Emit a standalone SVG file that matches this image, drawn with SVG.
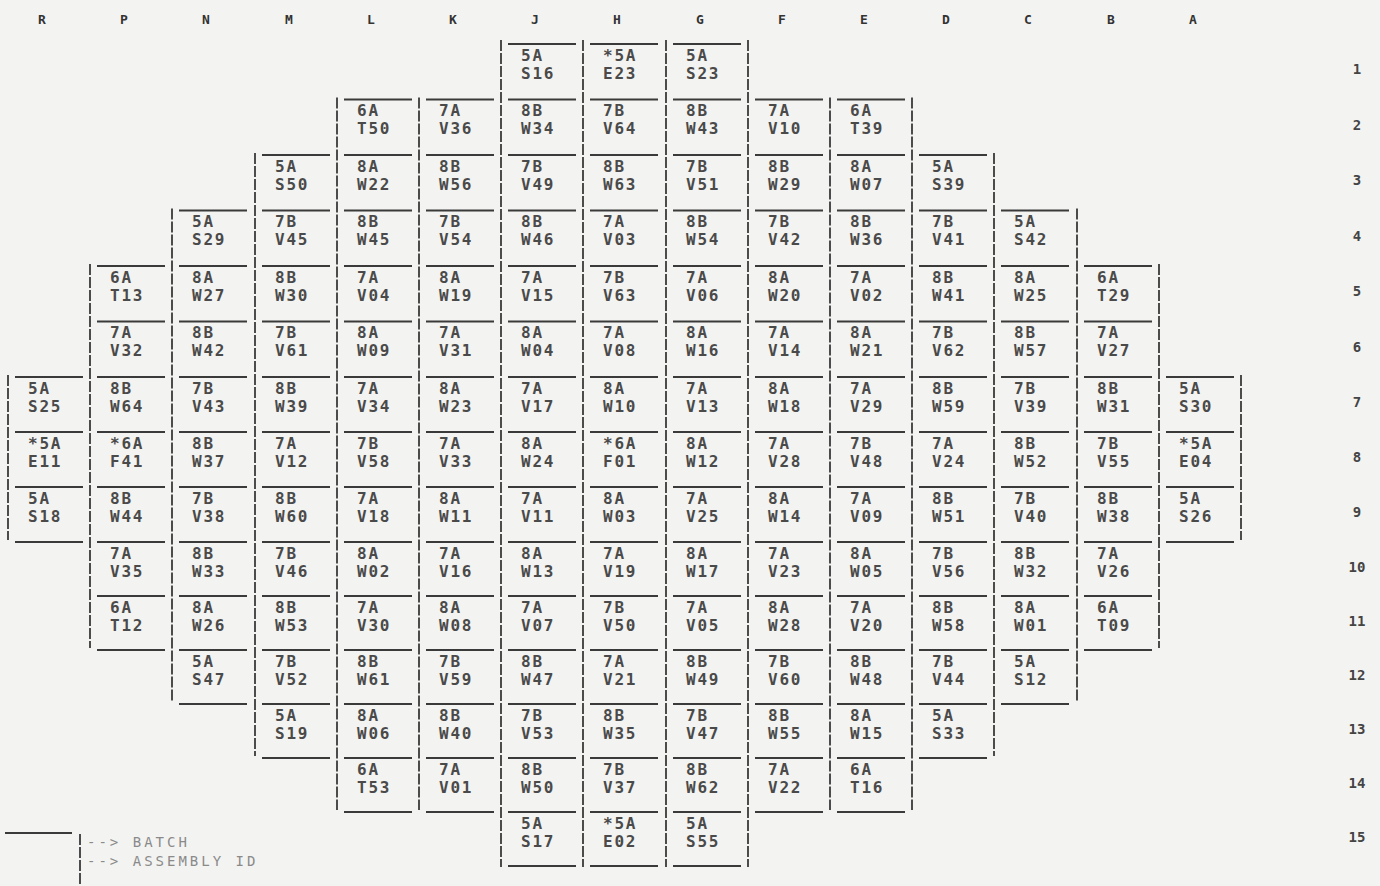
<svg xmlns="http://www.w3.org/2000/svg" width="1380" height="886" viewBox="0 0 1380 886">
<style>
.bg{fill:#f3f3f1}
.h{stroke:#3a3a3a;stroke-width:2;fill:none}
.v{stroke:#3a3a3a;stroke-width:1.8;stroke-dasharray:11 2;fill:none}
.t{font-family:"DejaVu Sans Mono","Liberation Mono",monospace;font-size:16px;font-weight:bold;letter-spacing:1.8px;fill:#4a4a4a}
.col{font-family:"DejaVu Sans Mono","Liberation Mono",monospace;font-size:13px;font-weight:bold;fill:#333;text-anchor:middle}
.row{font-family:"DejaVu Sans Mono","Liberation Mono",monospace;font-size:14px;font-weight:bold;fill:#444;text-anchor:middle}
.leg{font-family:"DejaVu Sans Mono","Liberation Mono",monospace;font-size:14px;letter-spacing:3px;fill:#8a8a8a}
</style>
<defs>
<line id="top" class="h" x1="7" y1="0" x2="75" y2="0"/>
</defs>
<rect class="bg" x="0" y="0" width="1380" height="886"/>
<g id="column-labels">
<text class="col" x="42" y="24">R</text><text class="col" x="124" y="24">P</text><text class="col" x="206" y="24">N</text><text class="col" x="289" y="24">M</text><text class="col" x="371" y="24">L</text><text class="col" x="453" y="24">K</text><text class="col" x="535" y="24">J</text><text class="col" x="617" y="24">H</text><text class="col" x="700" y="24">G</text><text class="col" x="782" y="24">F</text><text class="col" x="864" y="24">E</text><text class="col" x="946" y="24">D</text><text class="col" x="1028" y="24">C</text><text class="col" x="1111" y="24">B</text><text class="col" x="1193" y="24">A</text>
</g>
<g id="row-labels">
<text class="row" x="1357" y="74">1</text><text class="row" x="1357" y="129.5">2</text><text class="row" x="1357" y="185">3</text><text class="row" x="1357" y="240.5">4</text><text class="row" x="1357" y="296">5</text><text class="row" x="1357" y="351.5">6</text><text class="row" x="1357" y="407">7</text><text class="row" x="1357" y="462">8</text><text class="row" x="1357" y="517">9</text><text class="row" x="1357" y="572">10</text><text class="row" x="1357" y="626">11</text><text class="row" x="1357" y="680">12</text><text class="row" x="1357" y="734">13</text><text class="row" x="1357" y="788">14</text><text class="row" x="1357" y="842">15</text>
</g>
<g id="connectors">
<line class="v" x1="8" y1="375" x2="8" y2="540"/>
<line class="v" x1="90" y1="264" x2="90" y2="648"/>
<line class="v" x1="172" y1="208.5" x2="172" y2="702"/>
<line class="v" x1="255" y1="153" x2="255" y2="756"/>
<line class="v" x1="337" y1="97.5" x2="337" y2="810"/>
<line class="v" x1="419" y1="97.5" x2="419" y2="810"/>
<line class="v" x1="501" y1="40" x2="501" y2="867"/>
<line class="v" x1="583" y1="40" x2="583" y2="867"/>
<line class="v" x1="666" y1="40" x2="666" y2="867"/>
<line class="v" x1="748" y1="40" x2="748" y2="867"/>
<line class="v" x1="830" y1="97.5" x2="830" y2="810"/>
<line class="v" x1="912" y1="97.5" x2="912" y2="810"/>
<line class="v" x1="994" y1="153" x2="994" y2="756"/>
<line class="v" x1="1077" y1="208.5" x2="1077" y2="702"/>
<line class="v" x1="1159" y1="264" x2="1159" y2="648"/>
<line class="v" x1="1241" y1="375" x2="1241" y2="540"/>
<use href="#top" x="8" y="542"/><use href="#top" x="1159" y="542"/>
<use href="#top" x="90" y="650"/><use href="#top" x="1077" y="650"/>
<use href="#top" x="172" y="704"/><use href="#top" x="994" y="704"/>
<use href="#top" x="255" y="758"/><use href="#top" x="912" y="758"/>
<use href="#top" x="337" y="812"/><use href="#top" x="419" y="812"/><use href="#top" x="748" y="812"/><use href="#top" x="830" y="812"/>
<use href="#top" x="501" y="866"/><use href="#top" x="583" y="866"/><use href="#top" x="666" y="866"/>
</g>
<g id="J1" transform="translate(501,44)"><use href="#top"/><text class="t" x="20" y="16.5">5A</text><text class="t" x="20" y="34.5">S16</text></g>
<g id="H1" transform="translate(583,44)"><use href="#top"/><text class="t" x="20" y="16.5">*5A</text><text class="t" x="20" y="34.5">E23</text></g>
<g id="G1" transform="translate(666,44)"><use href="#top"/><text class="t" x="20" y="16.5">5A</text><text class="t" x="20" y="34.5">S23</text></g>
<g id="L2" transform="translate(337,99.5)"><use href="#top"/><text class="t" x="20" y="16.5">6A</text><text class="t" x="20" y="34.5">T50</text></g>
<g id="K2" transform="translate(419,99.5)"><use href="#top"/><text class="t" x="20" y="16.5">7A</text><text class="t" x="20" y="34.5">V36</text></g>
<g id="J2" transform="translate(501,99.5)"><use href="#top"/><text class="t" x="20" y="16.5">8B</text><text class="t" x="20" y="34.5">W34</text></g>
<g id="H2" transform="translate(583,99.5)"><use href="#top"/><text class="t" x="20" y="16.5">7B</text><text class="t" x="20" y="34.5">V64</text></g>
<g id="G2" transform="translate(666,99.5)"><use href="#top"/><text class="t" x="20" y="16.5">8B</text><text class="t" x="20" y="34.5">W43</text></g>
<g id="F2" transform="translate(748,99.5)"><use href="#top"/><text class="t" x="20" y="16.5">7A</text><text class="t" x="20" y="34.5">V10</text></g>
<g id="E2" transform="translate(830,99.5)"><use href="#top"/><text class="t" x="20" y="16.5">6A</text><text class="t" x="20" y="34.5">T39</text></g>
<g id="M3" transform="translate(255,155)"><use href="#top"/><text class="t" x="20" y="16.5">5A</text><text class="t" x="20" y="34.5">S50</text></g>
<g id="L3" transform="translate(337,155)"><use href="#top"/><text class="t" x="20" y="16.5">8A</text><text class="t" x="20" y="34.5">W22</text></g>
<g id="K3" transform="translate(419,155)"><use href="#top"/><text class="t" x="20" y="16.5">8B</text><text class="t" x="20" y="34.5">W56</text></g>
<g id="J3" transform="translate(501,155)"><use href="#top"/><text class="t" x="20" y="16.5">7B</text><text class="t" x="20" y="34.5">V49</text></g>
<g id="H3" transform="translate(583,155)"><use href="#top"/><text class="t" x="20" y="16.5">8B</text><text class="t" x="20" y="34.5">W63</text></g>
<g id="G3" transform="translate(666,155)"><use href="#top"/><text class="t" x="20" y="16.5">7B</text><text class="t" x="20" y="34.5">V51</text></g>
<g id="F3" transform="translate(748,155)"><use href="#top"/><text class="t" x="20" y="16.5">8B</text><text class="t" x="20" y="34.5">W29</text></g>
<g id="E3" transform="translate(830,155)"><use href="#top"/><text class="t" x="20" y="16.5">8A</text><text class="t" x="20" y="34.5">W07</text></g>
<g id="D3" transform="translate(912,155)"><use href="#top"/><text class="t" x="20" y="16.5">5A</text><text class="t" x="20" y="34.5">S39</text></g>
<g id="N4" transform="translate(172,210.5)"><use href="#top"/><text class="t" x="20" y="16.5">5A</text><text class="t" x="20" y="34.5">S29</text></g>
<g id="M4" transform="translate(255,210.5)"><use href="#top"/><text class="t" x="20" y="16.5">7B</text><text class="t" x="20" y="34.5">V45</text></g>
<g id="L4" transform="translate(337,210.5)"><use href="#top"/><text class="t" x="20" y="16.5">8B</text><text class="t" x="20" y="34.5">W45</text></g>
<g id="K4" transform="translate(419,210.5)"><use href="#top"/><text class="t" x="20" y="16.5">7B</text><text class="t" x="20" y="34.5">V54</text></g>
<g id="J4" transform="translate(501,210.5)"><use href="#top"/><text class="t" x="20" y="16.5">8B</text><text class="t" x="20" y="34.5">W46</text></g>
<g id="H4" transform="translate(583,210.5)"><use href="#top"/><text class="t" x="20" y="16.5">7A</text><text class="t" x="20" y="34.5">V03</text></g>
<g id="G4" transform="translate(666,210.5)"><use href="#top"/><text class="t" x="20" y="16.5">8B</text><text class="t" x="20" y="34.5">W54</text></g>
<g id="F4" transform="translate(748,210.5)"><use href="#top"/><text class="t" x="20" y="16.5">7B</text><text class="t" x="20" y="34.5">V42</text></g>
<g id="E4" transform="translate(830,210.5)"><use href="#top"/><text class="t" x="20" y="16.5">8B</text><text class="t" x="20" y="34.5">W36</text></g>
<g id="D4" transform="translate(912,210.5)"><use href="#top"/><text class="t" x="20" y="16.5">7B</text><text class="t" x="20" y="34.5">V41</text></g>
<g id="C4" transform="translate(994,210.5)"><use href="#top"/><text class="t" x="20" y="16.5">5A</text><text class="t" x="20" y="34.5">S42</text></g>
<g id="P5" transform="translate(90,266)"><use href="#top"/><text class="t" x="20" y="16.5">6A</text><text class="t" x="20" y="34.5">T13</text></g>
<g id="N5" transform="translate(172,266)"><use href="#top"/><text class="t" x="20" y="16.5">8A</text><text class="t" x="20" y="34.5">W27</text></g>
<g id="M5" transform="translate(255,266)"><use href="#top"/><text class="t" x="20" y="16.5">8B</text><text class="t" x="20" y="34.5">W30</text></g>
<g id="L5" transform="translate(337,266)"><use href="#top"/><text class="t" x="20" y="16.5">7A</text><text class="t" x="20" y="34.5">V04</text></g>
<g id="K5" transform="translate(419,266)"><use href="#top"/><text class="t" x="20" y="16.5">8A</text><text class="t" x="20" y="34.5">W19</text></g>
<g id="J5" transform="translate(501,266)"><use href="#top"/><text class="t" x="20" y="16.5">7A</text><text class="t" x="20" y="34.5">V15</text></g>
<g id="H5" transform="translate(583,266)"><use href="#top"/><text class="t" x="20" y="16.5">7B</text><text class="t" x="20" y="34.5">V63</text></g>
<g id="G5" transform="translate(666,266)"><use href="#top"/><text class="t" x="20" y="16.5">7A</text><text class="t" x="20" y="34.5">V06</text></g>
<g id="F5" transform="translate(748,266)"><use href="#top"/><text class="t" x="20" y="16.5">8A</text><text class="t" x="20" y="34.5">W20</text></g>
<g id="E5" transform="translate(830,266)"><use href="#top"/><text class="t" x="20" y="16.5">7A</text><text class="t" x="20" y="34.5">V02</text></g>
<g id="D5" transform="translate(912,266)"><use href="#top"/><text class="t" x="20" y="16.5">8B</text><text class="t" x="20" y="34.5">W41</text></g>
<g id="C5" transform="translate(994,266)"><use href="#top"/><text class="t" x="20" y="16.5">8A</text><text class="t" x="20" y="34.5">W25</text></g>
<g id="B5" transform="translate(1077,266)"><use href="#top"/><text class="t" x="20" y="16.5">6A</text><text class="t" x="20" y="34.5">T29</text></g>
<g id="P6" transform="translate(90,321.5)"><use href="#top"/><text class="t" x="20" y="16.5">7A</text><text class="t" x="20" y="34.5">V32</text></g>
<g id="N6" transform="translate(172,321.5)"><use href="#top"/><text class="t" x="20" y="16.5">8B</text><text class="t" x="20" y="34.5">W42</text></g>
<g id="M6" transform="translate(255,321.5)"><use href="#top"/><text class="t" x="20" y="16.5">7B</text><text class="t" x="20" y="34.5">V61</text></g>
<g id="L6" transform="translate(337,321.5)"><use href="#top"/><text class="t" x="20" y="16.5">8A</text><text class="t" x="20" y="34.5">W09</text></g>
<g id="K6" transform="translate(419,321.5)"><use href="#top"/><text class="t" x="20" y="16.5">7A</text><text class="t" x="20" y="34.5">V31</text></g>
<g id="J6" transform="translate(501,321.5)"><use href="#top"/><text class="t" x="20" y="16.5">8A</text><text class="t" x="20" y="34.5">W04</text></g>
<g id="H6" transform="translate(583,321.5)"><use href="#top"/><text class="t" x="20" y="16.5">7A</text><text class="t" x="20" y="34.5">V08</text></g>
<g id="G6" transform="translate(666,321.5)"><use href="#top"/><text class="t" x="20" y="16.5">8A</text><text class="t" x="20" y="34.5">W16</text></g>
<g id="F6" transform="translate(748,321.5)"><use href="#top"/><text class="t" x="20" y="16.5">7A</text><text class="t" x="20" y="34.5">V14</text></g>
<g id="E6" transform="translate(830,321.5)"><use href="#top"/><text class="t" x="20" y="16.5">8A</text><text class="t" x="20" y="34.5">W21</text></g>
<g id="D6" transform="translate(912,321.5)"><use href="#top"/><text class="t" x="20" y="16.5">7B</text><text class="t" x="20" y="34.5">V62</text></g>
<g id="C6" transform="translate(994,321.5)"><use href="#top"/><text class="t" x="20" y="16.5">8B</text><text class="t" x="20" y="34.5">W57</text></g>
<g id="B6" transform="translate(1077,321.5)"><use href="#top"/><text class="t" x="20" y="16.5">7A</text><text class="t" x="20" y="34.5">V27</text></g>
<g id="R7" transform="translate(8,377)"><use href="#top"/><text class="t" x="20" y="16.5">5A</text><text class="t" x="20" y="34.5">S25</text></g>
<g id="P7" transform="translate(90,377)"><use href="#top"/><text class="t" x="20" y="16.5">8B</text><text class="t" x="20" y="34.5">W64</text></g>
<g id="N7" transform="translate(172,377)"><use href="#top"/><text class="t" x="20" y="16.5">7B</text><text class="t" x="20" y="34.5">V43</text></g>
<g id="M7" transform="translate(255,377)"><use href="#top"/><text class="t" x="20" y="16.5">8B</text><text class="t" x="20" y="34.5">W39</text></g>
<g id="L7" transform="translate(337,377)"><use href="#top"/><text class="t" x="20" y="16.5">7A</text><text class="t" x="20" y="34.5">V34</text></g>
<g id="K7" transform="translate(419,377)"><use href="#top"/><text class="t" x="20" y="16.5">8A</text><text class="t" x="20" y="34.5">W23</text></g>
<g id="J7" transform="translate(501,377)"><use href="#top"/><text class="t" x="20" y="16.5">7A</text><text class="t" x="20" y="34.5">V17</text></g>
<g id="H7" transform="translate(583,377)"><use href="#top"/><text class="t" x="20" y="16.5">8A</text><text class="t" x="20" y="34.5">W10</text></g>
<g id="G7" transform="translate(666,377)"><use href="#top"/><text class="t" x="20" y="16.5">7A</text><text class="t" x="20" y="34.5">V13</text></g>
<g id="F7" transform="translate(748,377)"><use href="#top"/><text class="t" x="20" y="16.5">8A</text><text class="t" x="20" y="34.5">W18</text></g>
<g id="E7" transform="translate(830,377)"><use href="#top"/><text class="t" x="20" y="16.5">7A</text><text class="t" x="20" y="34.5">V29</text></g>
<g id="D7" transform="translate(912,377)"><use href="#top"/><text class="t" x="20" y="16.5">8B</text><text class="t" x="20" y="34.5">W59</text></g>
<g id="C7" transform="translate(994,377)"><use href="#top"/><text class="t" x="20" y="16.5">7B</text><text class="t" x="20" y="34.5">V39</text></g>
<g id="B7" transform="translate(1077,377)"><use href="#top"/><text class="t" x="20" y="16.5">8B</text><text class="t" x="20" y="34.5">W31</text></g>
<g id="A7" transform="translate(1159,377)"><use href="#top"/><text class="t" x="20" y="16.5">5A</text><text class="t" x="20" y="34.5">S30</text></g>
<g id="R8" transform="translate(8,432)"><use href="#top"/><text class="t" x="20" y="16.5">*5A</text><text class="t" x="20" y="34.5">E11</text></g>
<g id="P8" transform="translate(90,432)"><use href="#top"/><text class="t" x="20" y="16.5">*6A</text><text class="t" x="20" y="34.5">F41</text></g>
<g id="N8" transform="translate(172,432)"><use href="#top"/><text class="t" x="20" y="16.5">8B</text><text class="t" x="20" y="34.5">W37</text></g>
<g id="M8" transform="translate(255,432)"><use href="#top"/><text class="t" x="20" y="16.5">7A</text><text class="t" x="20" y="34.5">V12</text></g>
<g id="L8" transform="translate(337,432)"><use href="#top"/><text class="t" x="20" y="16.5">7B</text><text class="t" x="20" y="34.5">V58</text></g>
<g id="K8" transform="translate(419,432)"><use href="#top"/><text class="t" x="20" y="16.5">7A</text><text class="t" x="20" y="34.5">V33</text></g>
<g id="J8" transform="translate(501,432)"><use href="#top"/><text class="t" x="20" y="16.5">8A</text><text class="t" x="20" y="34.5">W24</text></g>
<g id="H8" transform="translate(583,432)"><use href="#top"/><text class="t" x="20" y="16.5">*6A</text><text class="t" x="20" y="34.5">F01</text></g>
<g id="G8" transform="translate(666,432)"><use href="#top"/><text class="t" x="20" y="16.5">8A</text><text class="t" x="20" y="34.5">W12</text></g>
<g id="F8" transform="translate(748,432)"><use href="#top"/><text class="t" x="20" y="16.5">7A</text><text class="t" x="20" y="34.5">V28</text></g>
<g id="E8" transform="translate(830,432)"><use href="#top"/><text class="t" x="20" y="16.5">7B</text><text class="t" x="20" y="34.5">V48</text></g>
<g id="D8" transform="translate(912,432)"><use href="#top"/><text class="t" x="20" y="16.5">7A</text><text class="t" x="20" y="34.5">V24</text></g>
<g id="C8" transform="translate(994,432)"><use href="#top"/><text class="t" x="20" y="16.5">8B</text><text class="t" x="20" y="34.5">W52</text></g>
<g id="B8" transform="translate(1077,432)"><use href="#top"/><text class="t" x="20" y="16.5">7B</text><text class="t" x="20" y="34.5">V55</text></g>
<g id="A8" transform="translate(1159,432)"><use href="#top"/><text class="t" x="20" y="16.5">*5A</text><text class="t" x="20" y="34.5">E04</text></g>
<g id="R9" transform="translate(8,487)"><use href="#top"/><text class="t" x="20" y="16.5">5A</text><text class="t" x="20" y="34.5">S18</text></g>
<g id="P9" transform="translate(90,487)"><use href="#top"/><text class="t" x="20" y="16.5">8B</text><text class="t" x="20" y="34.5">W44</text></g>
<g id="N9" transform="translate(172,487)"><use href="#top"/><text class="t" x="20" y="16.5">7B</text><text class="t" x="20" y="34.5">V38</text></g>
<g id="M9" transform="translate(255,487)"><use href="#top"/><text class="t" x="20" y="16.5">8B</text><text class="t" x="20" y="34.5">W60</text></g>
<g id="L9" transform="translate(337,487)"><use href="#top"/><text class="t" x="20" y="16.5">7A</text><text class="t" x="20" y="34.5">V18</text></g>
<g id="K9" transform="translate(419,487)"><use href="#top"/><text class="t" x="20" y="16.5">8A</text><text class="t" x="20" y="34.5">W11</text></g>
<g id="J9" transform="translate(501,487)"><use href="#top"/><text class="t" x="20" y="16.5">7A</text><text class="t" x="20" y="34.5">V11</text></g>
<g id="H9" transform="translate(583,487)"><use href="#top"/><text class="t" x="20" y="16.5">8A</text><text class="t" x="20" y="34.5">W03</text></g>
<g id="G9" transform="translate(666,487)"><use href="#top"/><text class="t" x="20" y="16.5">7A</text><text class="t" x="20" y="34.5">V25</text></g>
<g id="F9" transform="translate(748,487)"><use href="#top"/><text class="t" x="20" y="16.5">8A</text><text class="t" x="20" y="34.5">W14</text></g>
<g id="E9" transform="translate(830,487)"><use href="#top"/><text class="t" x="20" y="16.5">7A</text><text class="t" x="20" y="34.5">V09</text></g>
<g id="D9" transform="translate(912,487)"><use href="#top"/><text class="t" x="20" y="16.5">8B</text><text class="t" x="20" y="34.5">W51</text></g>
<g id="C9" transform="translate(994,487)"><use href="#top"/><text class="t" x="20" y="16.5">7B</text><text class="t" x="20" y="34.5">V40</text></g>
<g id="B9" transform="translate(1077,487)"><use href="#top"/><text class="t" x="20" y="16.5">8B</text><text class="t" x="20" y="34.5">W38</text></g>
<g id="A9" transform="translate(1159,487)"><use href="#top"/><text class="t" x="20" y="16.5">5A</text><text class="t" x="20" y="34.5">S26</text></g>
<g id="P10" transform="translate(90,542)"><use href="#top"/><text class="t" x="20" y="16.5">7A</text><text class="t" x="20" y="34.5">V35</text></g>
<g id="N10" transform="translate(172,542)"><use href="#top"/><text class="t" x="20" y="16.5">8B</text><text class="t" x="20" y="34.5">W33</text></g>
<g id="M10" transform="translate(255,542)"><use href="#top"/><text class="t" x="20" y="16.5">7B</text><text class="t" x="20" y="34.5">V46</text></g>
<g id="L10" transform="translate(337,542)"><use href="#top"/><text class="t" x="20" y="16.5">8A</text><text class="t" x="20" y="34.5">W02</text></g>
<g id="K10" transform="translate(419,542)"><use href="#top"/><text class="t" x="20" y="16.5">7A</text><text class="t" x="20" y="34.5">V16</text></g>
<g id="J10" transform="translate(501,542)"><use href="#top"/><text class="t" x="20" y="16.5">8A</text><text class="t" x="20" y="34.5">W13</text></g>
<g id="H10" transform="translate(583,542)"><use href="#top"/><text class="t" x="20" y="16.5">7A</text><text class="t" x="20" y="34.5">V19</text></g>
<g id="G10" transform="translate(666,542)"><use href="#top"/><text class="t" x="20" y="16.5">8A</text><text class="t" x="20" y="34.5">W17</text></g>
<g id="F10" transform="translate(748,542)"><use href="#top"/><text class="t" x="20" y="16.5">7A</text><text class="t" x="20" y="34.5">V23</text></g>
<g id="E10" transform="translate(830,542)"><use href="#top"/><text class="t" x="20" y="16.5">8A</text><text class="t" x="20" y="34.5">W05</text></g>
<g id="D10" transform="translate(912,542)"><use href="#top"/><text class="t" x="20" y="16.5">7B</text><text class="t" x="20" y="34.5">V56</text></g>
<g id="C10" transform="translate(994,542)"><use href="#top"/><text class="t" x="20" y="16.5">8B</text><text class="t" x="20" y="34.5">W32</text></g>
<g id="B10" transform="translate(1077,542)"><use href="#top"/><text class="t" x="20" y="16.5">7A</text><text class="t" x="20" y="34.5">V26</text></g>
<g id="P11" transform="translate(90,596)"><use href="#top"/><text class="t" x="20" y="16.5">6A</text><text class="t" x="20" y="34.5">T12</text></g>
<g id="N11" transform="translate(172,596)"><use href="#top"/><text class="t" x="20" y="16.5">8A</text><text class="t" x="20" y="34.5">W26</text></g>
<g id="M11" transform="translate(255,596)"><use href="#top"/><text class="t" x="20" y="16.5">8B</text><text class="t" x="20" y="34.5">W53</text></g>
<g id="L11" transform="translate(337,596)"><use href="#top"/><text class="t" x="20" y="16.5">7A</text><text class="t" x="20" y="34.5">V30</text></g>
<g id="K11" transform="translate(419,596)"><use href="#top"/><text class="t" x="20" y="16.5">8A</text><text class="t" x="20" y="34.5">W08</text></g>
<g id="J11" transform="translate(501,596)"><use href="#top"/><text class="t" x="20" y="16.5">7A</text><text class="t" x="20" y="34.5">V07</text></g>
<g id="H11" transform="translate(583,596)"><use href="#top"/><text class="t" x="20" y="16.5">7B</text><text class="t" x="20" y="34.5">V50</text></g>
<g id="G11" transform="translate(666,596)"><use href="#top"/><text class="t" x="20" y="16.5">7A</text><text class="t" x="20" y="34.5">V05</text></g>
<g id="F11" transform="translate(748,596)"><use href="#top"/><text class="t" x="20" y="16.5">8A</text><text class="t" x="20" y="34.5">W28</text></g>
<g id="E11" transform="translate(830,596)"><use href="#top"/><text class="t" x="20" y="16.5">7A</text><text class="t" x="20" y="34.5">V20</text></g>
<g id="D11" transform="translate(912,596)"><use href="#top"/><text class="t" x="20" y="16.5">8B</text><text class="t" x="20" y="34.5">W58</text></g>
<g id="C11" transform="translate(994,596)"><use href="#top"/><text class="t" x="20" y="16.5">8A</text><text class="t" x="20" y="34.5">W01</text></g>
<g id="B11" transform="translate(1077,596)"><use href="#top"/><text class="t" x="20" y="16.5">6A</text><text class="t" x="20" y="34.5">T09</text></g>
<g id="N12" transform="translate(172,650)"><use href="#top"/><text class="t" x="20" y="16.5">5A</text><text class="t" x="20" y="34.5">S47</text></g>
<g id="M12" transform="translate(255,650)"><use href="#top"/><text class="t" x="20" y="16.5">7B</text><text class="t" x="20" y="34.5">V52</text></g>
<g id="L12" transform="translate(337,650)"><use href="#top"/><text class="t" x="20" y="16.5">8B</text><text class="t" x="20" y="34.5">W61</text></g>
<g id="K12" transform="translate(419,650)"><use href="#top"/><text class="t" x="20" y="16.5">7B</text><text class="t" x="20" y="34.5">V59</text></g>
<g id="J12" transform="translate(501,650)"><use href="#top"/><text class="t" x="20" y="16.5">8B</text><text class="t" x="20" y="34.5">W47</text></g>
<g id="H12" transform="translate(583,650)"><use href="#top"/><text class="t" x="20" y="16.5">7A</text><text class="t" x="20" y="34.5">V21</text></g>
<g id="G12" transform="translate(666,650)"><use href="#top"/><text class="t" x="20" y="16.5">8B</text><text class="t" x="20" y="34.5">W49</text></g>
<g id="F12" transform="translate(748,650)"><use href="#top"/><text class="t" x="20" y="16.5">7B</text><text class="t" x="20" y="34.5">V60</text></g>
<g id="E12" transform="translate(830,650)"><use href="#top"/><text class="t" x="20" y="16.5">8B</text><text class="t" x="20" y="34.5">W48</text></g>
<g id="D12" transform="translate(912,650)"><use href="#top"/><text class="t" x="20" y="16.5">7B</text><text class="t" x="20" y="34.5">V44</text></g>
<g id="C12" transform="translate(994,650)"><use href="#top"/><text class="t" x="20" y="16.5">5A</text><text class="t" x="20" y="34.5">S12</text></g>
<g id="M13" transform="translate(255,704)"><use href="#top"/><text class="t" x="20" y="16.5">5A</text><text class="t" x="20" y="34.5">S19</text></g>
<g id="L13" transform="translate(337,704)"><use href="#top"/><text class="t" x="20" y="16.5">8A</text><text class="t" x="20" y="34.5">W06</text></g>
<g id="K13" transform="translate(419,704)"><use href="#top"/><text class="t" x="20" y="16.5">8B</text><text class="t" x="20" y="34.5">W40</text></g>
<g id="J13" transform="translate(501,704)"><use href="#top"/><text class="t" x="20" y="16.5">7B</text><text class="t" x="20" y="34.5">V53</text></g>
<g id="H13" transform="translate(583,704)"><use href="#top"/><text class="t" x="20" y="16.5">8B</text><text class="t" x="20" y="34.5">W35</text></g>
<g id="G13" transform="translate(666,704)"><use href="#top"/><text class="t" x="20" y="16.5">7B</text><text class="t" x="20" y="34.5">V47</text></g>
<g id="F13" transform="translate(748,704)"><use href="#top"/><text class="t" x="20" y="16.5">8B</text><text class="t" x="20" y="34.5">W55</text></g>
<g id="E13" transform="translate(830,704)"><use href="#top"/><text class="t" x="20" y="16.5">8A</text><text class="t" x="20" y="34.5">W15</text></g>
<g id="D13" transform="translate(912,704)"><use href="#top"/><text class="t" x="20" y="16.5">5A</text><text class="t" x="20" y="34.5">S33</text></g>
<g id="L14" transform="translate(337,758)"><use href="#top"/><text class="t" x="20" y="16.5">6A</text><text class="t" x="20" y="34.5">T53</text></g>
<g id="K14" transform="translate(419,758)"><use href="#top"/><text class="t" x="20" y="16.5">7A</text><text class="t" x="20" y="34.5">V01</text></g>
<g id="J14" transform="translate(501,758)"><use href="#top"/><text class="t" x="20" y="16.5">8B</text><text class="t" x="20" y="34.5">W50</text></g>
<g id="H14" transform="translate(583,758)"><use href="#top"/><text class="t" x="20" y="16.5">7B</text><text class="t" x="20" y="34.5">V37</text></g>
<g id="G14" transform="translate(666,758)"><use href="#top"/><text class="t" x="20" y="16.5">8B</text><text class="t" x="20" y="34.5">W62</text></g>
<g id="F14" transform="translate(748,758)"><use href="#top"/><text class="t" x="20" y="16.5">7A</text><text class="t" x="20" y="34.5">V22</text></g>
<g id="E14" transform="translate(830,758)"><use href="#top"/><text class="t" x="20" y="16.5">6A</text><text class="t" x="20" y="34.5">T16</text></g>
<g id="J15" transform="translate(501,812)"><use href="#top"/><text class="t" x="20" y="16.5">5A</text><text class="t" x="20" y="34.5">S17</text></g>
<g id="H15" transform="translate(583,812)"><use href="#top"/><text class="t" x="20" y="16.5">*5A</text><text class="t" x="20" y="34.5">E02</text></g>
<g id="G15" transform="translate(666,812)"><use href="#top"/><text class="t" x="20" y="16.5">5A</text><text class="t" x="20" y="34.5">S55</text></g>
<g id="legend">
<line class="h" x1="5" y1="833" x2="72" y2="833"/>
<line class="v" x1="80" y1="834" x2="80" y2="886"/>
<text class="leg" x="87" y="847">--&gt; BATCH</text>
<text class="leg" x="87" y="866">--&gt; ASSEMBLY ID</text>
</g>
</svg>
